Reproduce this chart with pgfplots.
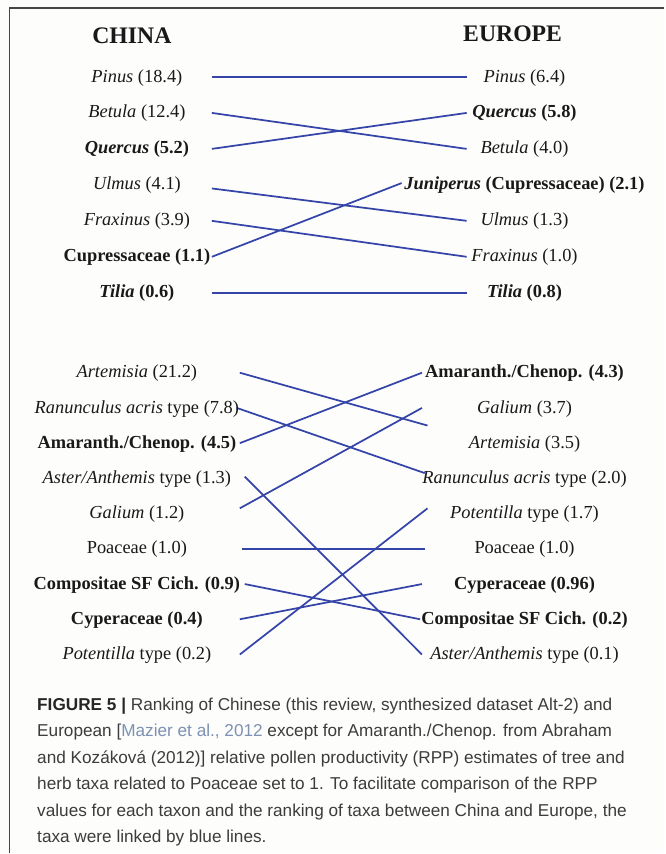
\documentclass[border=0pt]{standalone}
\usepackage{pgfplots}
\pgfplotsset{compat=1.18}
\usepackage{fontspec}
\setmainfont{Liberation Serif}
\newfontfamily\capfont{Liberation Sans}

\definecolor{rppblue}{RGB}{52,68,168}
\definecolor{bgcol}{RGB}{253,253,251}
\definecolor{framecol}{RGB}{70,70,70}
\definecolor{captext}{RGB}{60,60,60}
\definecolor{citecol}{RGB}{125,145,180}
\definecolor{labtext}{RGB}{25,25,25}

% label and title fonts (sizes in pt; 1px = 0.75pt)
\newcommand{\labfont}{\fontsize{13.8}{16}\selectfont\color{labtext}}
\newcommand{\ttlfont}{\fontsize{17.8}{20}\selectfont\bfseries\color{labtext}}
\newcommand{\cfont}{\capfont\fontsize{12.9}{15}\selectfont\color{captext}}

\tikzset{
  lab/.style={font=\labfont, anchor=mid, inner sep=0pt, yshift=-1.5pt},
  link/.style={rppblue, solid, line width=1.3pt, mark=none},
}
\pgfplotsset{
  rankpanel/.style={
    scale only axis, hide axis, clip=false,
    xmin=0, xmax=1, y dir=reverse,
  },
}

\begin{document}
\begin{tikzpicture}[x=0.75pt,y=-0.75pt]
% page background and frame
\fill[bgcol] (0,0) rectangle (665,854);
\draw[framecol, line width=1pt] (9.5,854) -- (9.5,8) -- (665,8);

% column headings
\node[font=\ttlfont] at (132,36) {CHINA};
\node[font=\ttlfont] at (513,34) {EUROPE};

% ---------------- trees ----------------
\begin{axis}[rankpanel, at={(159pt,-57.75pt)}, anchor=north west,
  width=191.25pt, height=162pt, ymin=1, ymax=7]
  % China rank -> Europe rank
  \addplot[link] coordinates {(0,1) (1,1)};        % Pinus
  \addplot[link] coordinates {(0,2) (1,3)};        % Betula
  \addplot[link] coordinates {(0,3) (1,2)};        % Quercus
  \addplot[link] coordinates {(0,4.1) (1,5)};      % Ulmus
  \addplot[link] coordinates {(0,5) (1,6)};        % Fraxinus
  \addplot[link] coordinates {(0,6) (0.745,3.95)}; % Cupressaceae / Juniperus
  \addplot[link] coordinates {(0,7) (1,7)};        % Tilia

  \node[lab] at (axis cs:-0.294,1) {\textit{Pinus} (18.4)};
  \node[lab] at (axis cs:-0.294,2) {\textit{Betula} (12.4)};
  \node[lab] at (axis cs:-0.294,3) {\textbf{\textit{Quercus} (5.2)}};
  \node[lab] at (axis cs:-0.294,4) {\textit{Ulmus} (4.1)};
  \node[lab] at (axis cs:-0.294,5) {\textit{Fraxinus} (3.9)};
  \node[lab] at (axis cs:-0.294,6) {\textbf{Cupressaceae (1.1)}};
  \node[lab] at (axis cs:-0.294,7) {\textbf{\textit{Tilia} (0.6)}};

  \node[lab] at (axis cs:1.227,1) {\textit{Pinus} (6.4)};
  \node[lab] at (axis cs:1.227,2) {\textbf{\textit{Quercus} (5.8)}};
  \node[lab] at (axis cs:1.227,3) {\textit{Betula} (4.0)};
  \node[lab] at (axis cs:1.227,4) {\textbf{\textit{Juniperus} (Cupressaceae) (2.1)}};
  \node[lab] at (axis cs:1.227,5) {\textit{Ulmus} (1.3)};
  \node[lab] at (axis cs:1.227,6) {\textit{Fraxinus} (1.0)};
  \node[lab] at (axis cs:1.227,7) {\textbf{\textit{Tilia} (0.8)}};
\end{axis}

% ---------------- herbs ----------------
\begin{axis}[rankpanel, at={(180pt,-279.75pt)}, anchor=north west,
  width=139.5pt, height=211.5pt, ymin=1, ymax=9]
  \addplot[link] coordinates {(0,1) (1.01,2.5)};        % Artemisia
  \addplot[link] coordinates {(-0.016,2) (0.995,3.85)}; % Ranunculus acris type
  \addplot[link] coordinates {(0,3) (0.98,1)};          % Amaranth./Chenop.
  \addplot[link] coordinates {(0.027,3.95) (0.98,9)};   % Aster/Anthemis type
  \addplot[link] coordinates {(0,4.85) (0.98,2)};       % Galium
  \addplot[link] coordinates {(0.01,6) (0.995,6)};      % Poaceae
  \addplot[link] coordinates {(0.027,7) (0.97,8)};      % Compositae SF Cich.
  \addplot[link] coordinates {(0,8) (0.98,7)};          % Cyperaceae
  \addplot[link] coordinates {(0,9) (1.01,4.85)};       % Potentilla type

  \node[lab] at (axis cs:-0.554,1) {\textit{Artemisia} (21.2)};
  \node[lab] at (axis cs:-0.554,2) {\textit{Ranunculus acris} type (7.8)};
  \node[lab] at (axis cs:-0.554,3) {\textbf{Amaranth./Chenop. (4.5)}};
  \node[lab] at (axis cs:-0.554,4) {\textit{Aster/Anthemis} type (1.3)};
  \node[lab] at (axis cs:-0.554,5) {\textit{Galium} (1.2)};
  \node[lab] at (axis cs:-0.554,6) {Poaceae (1.0)};
  \node[lab] at (axis cs:-0.554,7) {\textbf{Compositae SF Cich. (0.9)}};
  \node[lab] at (axis cs:-0.554,8) {\textbf{Cyperaceae (0.4)}};
  \node[lab] at (axis cs:-0.554,9) {\textit{Potentilla} type (0.2)};

  \node[lab] at (axis cs:1.532,1) {\textbf{Amaranth./Chenop. (4.3)}};
  \node[lab] at (axis cs:1.532,2) {\textit{Galium} (3.7)};
  \node[lab] at (axis cs:1.532,3) {\textit{Artemisia} (3.5)};
  \node[lab] at (axis cs:1.532,4) {\textit{Ranunculus acris} type (2.0)};
  \node[lab] at (axis cs:1.532,5) {\textit{Potentilla} type (1.7)};
  \node[lab] at (axis cs:1.532,6) {Poaceae (1.0)};
  \node[lab] at (axis cs:1.532,7) {\textbf{Cyperaceae (0.96)}};
  \node[lab] at (axis cs:1.532,8) {\textbf{Compositae SF Cich. (0.2)}};
  \node[lab] at (axis cs:1.532,9) {\textit{Aster/Anthemis} type (0.1)};
\end{axis}

% ---------------- caption ----------------
\begin{scope}[every node/.style={font=\cfont, anchor=base west, inner sep=0pt}]
  \node at (37,711)   {\textbf{\color{black!85}FIGURE 5 |} Ranking of Chinese (this review, synthesized dataset Alt-2) and};
  \node at (37,737.5) {European [\textcolor{citecol}{Mazier et al., 2012} except for Amaranth./Chenop. from Abraham};
  \node at (37,764)   {and Kozáková (2012)] relative pollen productivity (RPP) estimates of tree and};
  \node at (37,790.5) {herb taxa related to Poaceae set to 1. To facilitate comparison of the RPP};
  \node at (37,817)   {values for each taxon and the ranking of taxa between China and Europe, the};
  \node at (37,843.5) {taxa were linked by blue lines.};
\end{scope}
\end{tikzpicture}
\end{document}
